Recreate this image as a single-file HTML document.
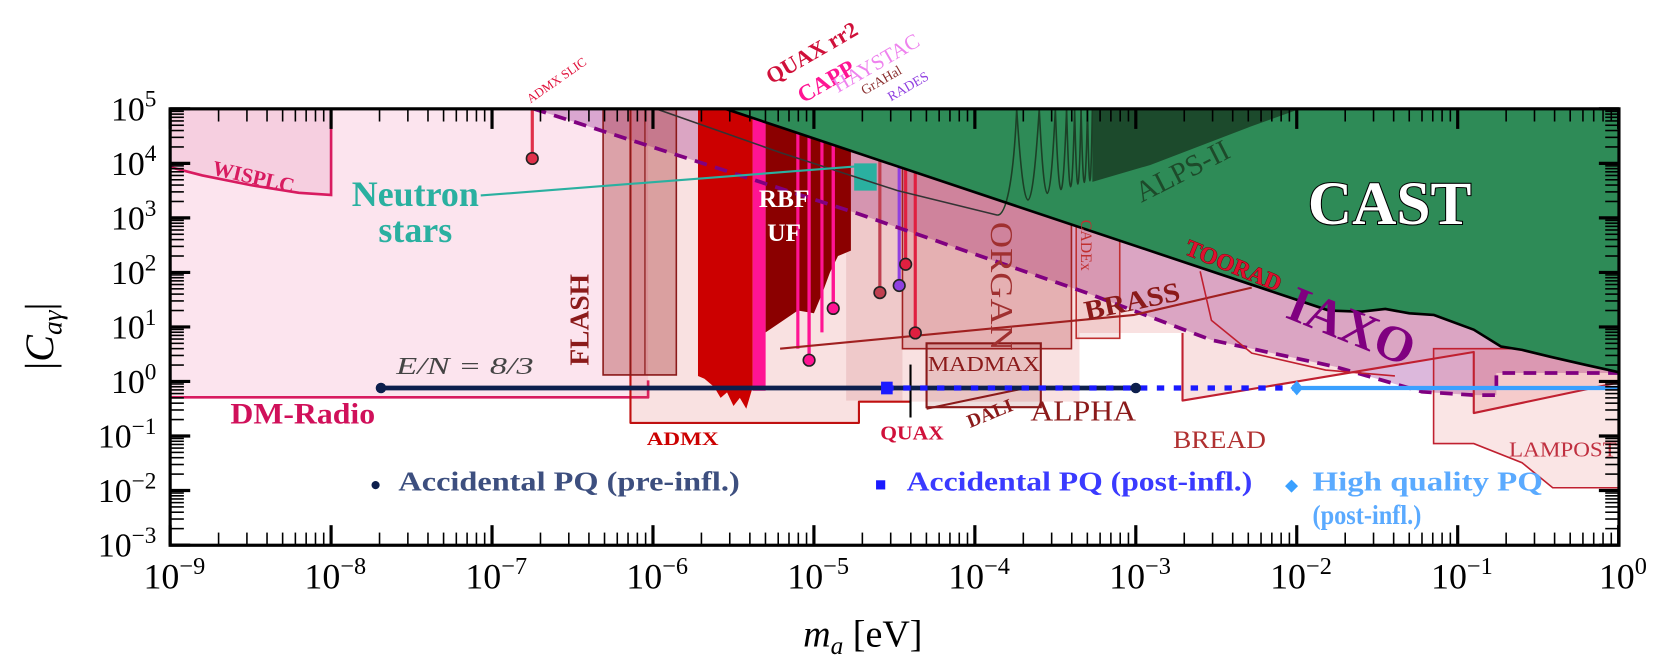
<!DOCTYPE html>
<html><head><meta charset="utf-8"><style>
html,body{margin:0;padding:0;background:#fff;}
svg{display:block;}
text{font-family:"Liberation Serif",serif;}
</style></head><body>
<svg id="chart" width="1657" height="671" viewBox="0 0 1568 635" preserveAspectRatio="none" xmlns="http://www.w3.org/2000/svg">
<defs><clipPath id="plotclip"><rect x="161" y="103" width="1371" height="413"/></clipPath></defs>
<g id="plot" clip-path="url(#plotclip)"></g>
<g id="labels"></g>
<g id="axes"></g>
</svg>
<script>
// ---- data (log10 m_a [eV], log10 |C|) ----
const massDecades=[-9,-8,-7,-6,-5,-4,-3,-2,-1,0];
const couplingDecades=[5,4,3,2,1,0,-1,-2,-3];
const dmRadioRegion=[[-9,5],[-6.03,5],[-6.03,0.02],[-6.03,-0.29],[-9,-0.29]];
const wisplcRegion=[[-9,5],[-8,5],[-8,3.42],[-8.2,3.46],[-8.5,3.6],[-8.8,3.78],[-9,3.93]];
const iaxoRegion=[[-6.74,5],[-5.55,5],[-1.8,1.3],[-1.6,1.28],[-1.45,1.33],[-1.3,1.25],[-1.15,1.22],[-0.9,0.95],[-0.73,0.64],[-0.6,0.58],[-0.42,0.45],[-0.2,0.3],[0,0.17],[0,0.155],[-0.76,0.155],[-0.76,-0.25],[-0.9,-0.25],[-1.22,-0.19],[-1.76,0.27],[-2.53,0.76],[-3.31,1.63],[-4.75,3.1],[-5.72,4.03]];
const iaxoDashed=[[-6.74,5],[-5.72,4.03],[-4.75,3.1],[-3.31,1.63],[-2.53,0.76],[-1.76,0.27],[-1.22,-0.19],[-0.9,-0.25],[-0.76,-0.25],[-0.76,0.155],[0,0.155]];
const haloscopeRegion=[[-6.14,5],[-6.14,-0.76],[-4.72,-0.76],[-4.72,-0.37],[-3.35,-0.37],[-3.35,0.89],[-2.71,0.89],[-2.71,-0.35],[-0.9,0.54],[-0.9,-0.58],[0,-0.02],[0,5]];
const admxOutline=[[-6.14,5],[-6.14,-0.76],[-4.72,-0.76],[-4.72,-0.37],[-4.4,-0.37]];
const flashBox=[[-6.31,5],[-5.855,5],[-5.855,0.12],[-6.31,0.12]];
const organBox=[[-4.45,5],[-3.4,5],[-3.4,0.6],[-4.45,0.6]];
const quaxBox=[[-4.8,5],[-4.45,5],[-4.45,-0.35],[-4.8,-0.35]];
const madmaxBox=[[-4.3,0.7],[-3.59,0.7],[-3.59,-0.47],[-4.3,-0.47]];
const daliLine=[[-4.3,-0.5],[-3.7,-0.13]];
const cadexBox=[[-3.37,2.9],[-3.1,2.9],[-3.1,0.79],[-3.37,0.79]];
const lampostRegion=[[-1.15,0.6],[-1.15,-1.14],[-0.9,-1.14],[-0.6,-1.49],[-0.41,-1.95],[0,-1.95],[0,0.6]];
const breadLine=[[-2.71,0.89],[-2.71,-0.35],[-0.9,0.54],[-0.9,-0.58],[0,-0.02]];
const brassLine=[[-5.21,0.6],[-3.01,1.22],[-2.28,1.72]];
const iaxoCurve=[[-2.6,2.02],[-2.53,1.12],[-2.28,0.52],[-1.82,0.21],[-1.39,0.1]];
const admxBand=[[-5.72,5],[-5.38,5],[-5.38,-0.1],[-5.42,-0.5],[-5.46,-0.3],[-5.5,-0.45],[-5.54,-0.2],[-5.58,-0.3],[-5.62,-0.1],[-5.68,0.05],[-5.72,0.1]];
const pinkBand=[[-5.38,5],[-5.3,5],[-5.3,-0.17],[-5.38,-0.17]];
const rbfBand=[[-5.3,5],[-4.77,5],[-4.77,2.4],[-4.85,2.3],[-4.9,2.0],[-4.95,1.6],[-5.0,1.25],[-5.1,1.3],[-5.2,1.1],[-5.3,0.9]];
const neutronPatch=[[-4.75,4.0],[-4.61,4.0],[-4.61,3.5],[-4.75,3.5]];
const castBoundary=[[-5.55,5],[-1.8,1.3],[-1.6,1.28],[-1.45,1.33],[-1.3,1.25],[-1.15,1.22],[-0.9,0.95],[-0.73,0.64],[-0.6,0.58],[-0.42,0.45],[-0.2,0.3],[0,0.17]];
const alpsDark=[[-3.27,5],[-3.27,3.66],[-2.91,3.97],[-2.29,4.67],[-1.98,5]];
const alpsCurve=[[-5.98,5],[-5.21,4.2],[-4.48,3.5],[-3.93,3.1],[-3.86,3.05]];
const alpsEdges=[-3.86,-3.74,-3.6,-3.5,-3.43,-3.38,-3.34,-3.3,-3.27];
const alpsDips=[3.05,3.33,3.45,3.52,3.57,3.62,3.65,3.68];
const pinkLines=[-5.1,-5.03,-4.95,-4.88];
const pinkLineEnds=[0.6,0.39,0.9,1.34];
const dotMass=[-6.75,-5.03,-4.88,-4.59,-4.47,-4.43,-4.37];
const dotCoupling=[4.09,0.39,1.34,1.63,1.76,2.15,0.89];
const dotColors=['#e0304a','#ff1493','#ff1493','#c04050','#9040e0','#e02040','#e02040'];
const kswC=-0.12;
const preInfl=[-7.69,-3.0];
const postInfl=[-4.55,-2.0];
const highQ=[-2.0,0];

const X=m=>161+(m+9)*152.3;
const Y=c=>103+(5-c)*51.6;
const NS='http://www.w3.org/2000/svg';
const plot=document.getElementById('plot');
const labels=document.getElementById('labels');
const axes=document.getElementById('axes');
function mk(tag,attrs,parent){const e=document.createElementNS(NS,tag);for(const k in attrs)e.setAttribute(k,attrs[k]);(parent||plot).appendChild(e);return e;}
function pts(a){return a.map(p=>X(p[0]).toFixed(1)+','+Y(p[1]).toFixed(1)).join(' ');}
function poly(a,fill,stroke,sw){return mk('polygon',{points:pts(a),fill:fill,stroke:stroke||'none','stroke-width':sw||0});}
function line(a,stroke,sw,dash){const e=mk('polyline',{points:pts(a),fill:'none',stroke:stroke,'stroke-width':sw,'stroke-linejoin':'round'});if(dash)e.setAttribute('stroke-dasharray',dash);return e;}
let el;
el=poly(dmRadioRegion,'#fce4ee');


el=line([dmRadioRegion[4],dmRadioRegion[3],dmRadioRegion[2]],'#d81b60',2.5);


el=poly(wisplcRegion,'#f6cfe0','#d81b60',2.5);


el=poly(iaxoRegion,'rgba(150,40,150,0.33)');


el=poly(haloscopeRegion,'rgba(215,70,70,0.16)');


el=line(admxOutline,'#c01010',2);


el=poly(quaxBox,'rgba(170,30,40,0.12)');


el=poly(organBox,'rgba(170,30,40,0.25)','#a02020',1.5);


el=poly(madmaxBox,'rgba(139,26,26,0.15)','#8b1a1a',2);


el=line(daliLine,'#8b1a1a',2);


el=poly(cadexBox,'rgba(200,60,60,0.12)','#c03030',1.5);


el=poly(lampostRegion,'rgba(220,80,80,0.15)','#c02030',1.5);


el=poly(flashBox,'rgba(160,40,40,0.35)','#8b1a1a',1.5);


el=line([[-6.14,5],[-6.14,0.12]],'#8b1a1a',1.2);


el=line([[-6.05,5],[-6.05,0.12]],'#8b1a1a',1.2);


el=poly(admxBand,'#cc0000');


el=poly(pinkBand,'#ff1493');


el=poly(rbfBand,'#8b0000');


pinkLines.forEach((m,i)=>{
  const l=line([[m,5],[m,pinkLineEnds[i]]],'#ff1493',3);
  
  
});
dotMass.forEach((m,i)=>{
  const l=line([[m,5],[m,dotCoupling[i]]],dotColors[i],3);
  
  
});
el=poly(neutronPatch,'#2ab0a0');


el=line(iaxoDashed,'#800080',3.5,'12 8');


el=poly(castBoundary.concat([[0,5]]),'#2e8b57');


el=poly(alpsDark,'#1c4a2c');


el=line(alpsCurve,'#333',1.5);


alpsDips.forEach((dip,i)=>{
  const x1=X(alpsEdges[i]),x2=X(alpsEdges[i+1]);
  const yTop=Y(5),yDip=Y(dip);
  const p=mk('path',{d:`M${x1},${i===0?yDip:yTop} Q${(x1+x2)/2},${2*yDip-yTop} ${x2},${yTop}`,fill:'none',stroke:'#1c3f26','stroke-width':1.5});
  if(i===0)p.setAttribute('d',`M${x1},${yDip} C${x1+8},${yDip} ${x2-3},${yDip-30} ${x2},${yTop}`);
  
  
});
el=line(castBoundary,'#000',2.5);


el=line(brassLine,'#a02020',2);


el=line(breadLine,'#c02030',2);


el=line(iaxoCurve,'#c02030',1.5);


el=line([[-4.4,0.31],[-4.4,-0.66]],'#000',2);


el=line([[-7.07,3.41],[-4.71,3.95]],'#2ab0a0',2);


dotMass.forEach((m,i)=>{
  const c=mk('circle',{cx:X(m),cy:Y(dotCoupling[i]),r:5.5,fill:dotColors[i],stroke:'#222','stroke-width':1.5});
  
  
});
el=line([[preInfl[0],kswC],[preInfl[1],kswC]],'#0d1f4d',4.5);


el=line([[postInfl[0],kswC],[postInfl[1],kswC]],'#1a1aff',5,'7 9');


el=line([[highQ[0],kswC],[highQ[1],kswC]],'#3aa0ff',4);


preInfl.forEach(m=>{
  const c=mk('circle',{cx:X(m),cy:Y(kswC),r:5,fill:'#0d1f4d'});
  
  
});
el=mk('rect',{x:X(postInfl[0])-5,y:Y(kswC)-6,width:11,height:12,fill:'#1a1aff'});


el=mk('polygon',{points:`${X(highQ[0])},${Y(kswC)-7} ${X(highQ[0])+6},${Y(kswC)} ${X(highQ[0])},${Y(kswC)+7} ${X(highQ[0])-6},${Y(kswC)}`,fill:'#3aa0ff'});



// ---- axes ----
el=mk('rect',{x:161,y:103,width:1371,height:413,fill:'none',stroke:'#000','stroke-width':3},axes);


const minorSteps=[2,3,4,5,6,7,8,9];
massDecades.forEach(d=>{
  const x=X(d);
  const t1=mk('line',{x1:x,x2:x,y1:516,y2:497,stroke:'#000','stroke-width':3},axes);
  
  
  const t2=mk('line',{x1:x,x2:x,y1:103,y2:122,stroke:'#000','stroke-width':3},axes);
  
  
  const tx=mk('text',{x:x+4,y:557,'font-size':34,'text-anchor':'middle',fill:'#000'},axes);
  
  
  tx.innerHTML=d===0?'10<tspan font-size="23" dy="-14">0</tspan>':'10<tspan font-size="23" dy="-14">−'+(-d)+'</tspan>';
  if(d<0)minorSteps.forEach(s=>{
    const xm=X(d+Math.log10(s));
    const a=mk('line',{x1:xm,x2:xm,y1:516,y2:504,stroke:'#000','stroke-width':1.5},axes);
    
    
    const b=mk('line',{x1:xm,x2:xm,y1:103,y2:115,stroke:'#000','stroke-width':1.5},axes);
    
    
  });
});
couplingDecades.forEach(d=>{
  const y=Y(d);
  const t1=mk('line',{x1:161,x2:180,y1:y,y2:y,stroke:'#000','stroke-width':3},axes);
  
  
  const t2=mk('line',{x1:1532,x2:1513,y1:y,y2:y,stroke:'#000','stroke-width':3},axes);
  
  
  const tx=mk('text',{x:148,y:y+11,'font-size':32,'text-anchor':'end',fill:'#000'},axes);
  
  
  tx.innerHTML='10<tspan font-size="22" dy="-13">'+(d<0?'−'+(-d):d)+'</tspan>';
  if(d>-3)minorSteps.forEach(s=>{
    const ym=Y(d-1+Math.log10(s));
    const a=mk('line',{x1:161,x2:174,y1:ym,y2:ym,stroke:'#000','stroke-width':1.5},axes);
    
    
    const b=mk('line',{x1:1532,x2:1519,y1:ym,y2:ym,stroke:'#000','stroke-width':1.5},axes);
    
    
  });
});
</script>
<script>
(function(){
const L=document.getElementById('labels');
const NS='http://www.w3.org/2000/svg';
function T(txt,x,y,size,fill,opts){const t=document.createElementNS(NS,'text');t.setAttribute('x',x);t.setAttribute('y',y);t.setAttribute('font-size',size);t.setAttribute('fill',fill);opts=opts||{};if(opts.bold)t.setAttribute('font-weight','bold');if(opts.italic)t.setAttribute('font-style','italic');if(opts.rot)t.setAttribute('transform',`rotate(${opts.rot} ${x} ${y})`);if(opts.anchor)t.setAttribute('text-anchor',opts.anchor);if(opts.stroke){t.setAttribute('stroke',opts.stroke);t.setAttribute('stroke-width',opts.sw||1);t.setAttribute('paint-order','stroke');}if(opts.len){t.setAttribute('textLength',opts.len);t.setAttribute('lengthAdjust','spacingAndGlyphs');}t.textContent=txt;L.appendChild(t);return t;}
let t;
t=T('WISPLC',200,165,20,'#d81b60',{bold:true,rot:13});


t=T('ADMX SLIC',502,98,12,'#e0103a',{rot:-35});


t=T('QUAX rr2',730,80,21,'#d0103a',{bold:true,rot:-30});


t=T('CAPP',760,98,22,'#ff1493',{bold:true,rot:-30});


t=T('HAYSTAC',793,88,20,'#ee82ee',{rot:-30});


t=T('GrAHal',818,90,13,'#8b3030',{rot:-30});


t=T('RADES',843,96,13,'#9040e0',{rot:-30});


t=T('Neutron',393,195,34,'#2ab0a0',{bold:true,anchor:'middle'});


t=T('stars',393,229,34,'#2ab0a0',{bold:true,anchor:'middle'});


t=T('FLASH',557,346,26,'#8b1a1a',{bold:true,rot:-90});


t=T('RBF',742,196,24,'#fff',{bold:true,anchor:'middle'});


t=T('UF',742,228,24,'#fff',{bold:true,anchor:'middle'});


t=T('CAST',1315,212,58,'#fff',{bold:true,anchor:'middle',stroke:'#000',sw:2});


t=T('ALPS-II',1080,192,28,'#1d4a2a',{rot:-27});


t=T('TOORAD',1120,240,22,'#e01030',{bold:true,rot:22,stroke:'#600',sw:0.8});


t=T('IAXO',1215,300,48,'#800080',{bold:true,rot:22});


t=T('BRASS',1028,303,26,'#8b1a1a',{bold:true,rot:-12,len:92});


t=T('ORGAN',938,210,30,'#a03030',{rot:90,len:122});


t=T('CADEx',1023,208,15,'#c03030',{rot:90});


t=T('MADMAX',878,351,20,'#8b1a1a',{len:106});


t=T('DALI',918,405,18,'#8b1a1a',{bold:true,rot:-22});


t=T('ALPHA',975,398,27,'#8b1a1a',{len:100});


t=T('BREAD',1110,424,24,'#b03030',{len:88});


t=T('LAMPOST',1428,432,20,'#c03040',{len:102});


t=T('ADMX',612,421,18,'#cc0000',{bold:true,len:68});


t=T('QUAX',833,416,19,'#d0103a',{bold:true,len:60});


t=T('DM-Radio',218,401,28,'#d0105a',{bold:true,len:137});


t=T('E/N = 8/3',375,354,23,'#444',{italic:true,len:130});


t=T('●',350,464,18,'#0d1f4d');


t=T('Accidental PQ (pre-infl.)',377,464,26,'#3d4f7f',{bold:true,len:323});


t=T('■',828,464,18,'#1a1aff');


t=T('Accidental PQ (post-infl.)',858,464,26,'#3a3aff',{bold:true,len:327});


t=T('◆',1216,464,16,'#3aa0ff');


t=T('High quality PQ',1242,464,26,'#5aaaff',{bold:true,len:218});


t=T('(post-infl.)',1242,496,26,'#5aaaff',{bold:true,len:103});


t=T('',50,350,38,'#000',{rot:-90});


t.innerHTML='|<tspan font-style="italic">C</tspan><tspan font-style="italic" font-size="26" dy="8">aγ</tspan><tspan dy="-8">|</tspan>';
t=T('',760,612,36,'#000');


t.innerHTML='<tspan font-style="italic">m</tspan><tspan font-style="italic" font-size="24" dy="7">a</tspan><tspan dy="-7"> [eV]</tspan>';
})();
</script>
</body></html>
